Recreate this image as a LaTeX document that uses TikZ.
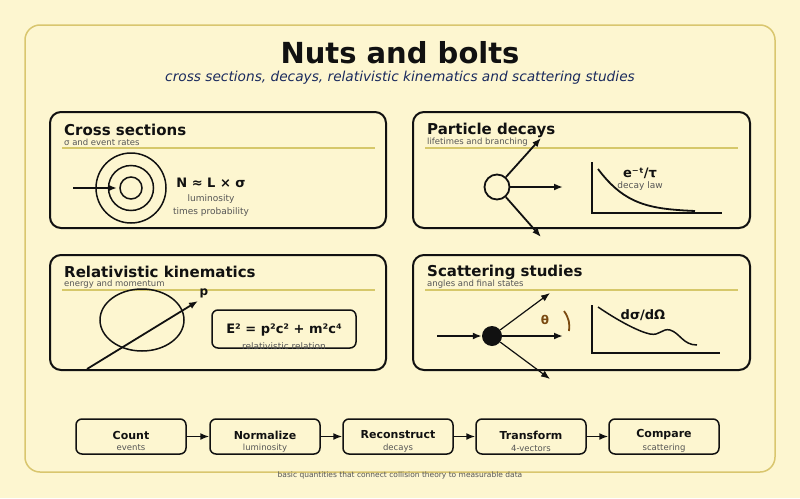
\documentclass[tikz,border=0pt]{standalone}
\usepackage{fontspec}
\setmainfont{DejaVu Sans}
\usetikzlibrary{arrows.meta}
\definecolor{bg}{HTML}{FDF6D0}
\definecolor{frame}{HTML}{D9C66E}
\definecolor{rule}{HTML}{D6C86A}
\definecolor{navy}{HTML}{1A2A5E}
\definecolor{sub}{HTML}{555555}
\definecolor{brn}{HTML}{7A4A10}
\definecolor{ink}{HTML}{111111}
\begin{document}
\begin{tikzpicture}[x=1pt,y=-1pt,
 panel/.style={draw=ink,line width=2pt,rounded corners=11pt},
 ptitle/.style={anchor=west,font=\fontsize{15}{15}\selectfont\bfseries,text=ink,inner sep=0},
 psub/.style={anchor=west,font=\fontsize{8.5}{9}\selectfont,text=sub,inner sep=0},
 prule/.style={draw=rule,line width=1.5pt},
 arr/.style={draw=ink,line width=1.8pt,-{Latex[length=9pt,width=7pt]}},
 tarr/.style={draw=ink,line width=1.2pt,-{Latex[length=9pt,width=7pt]}},
 eq/.style={font=\fontsize{13}{13}\selectfont\bfseries,text=ink,inner sep=0},
 note/.style={font=\fontsize{9}{9}\selectfont,text=sub,inner sep=0},
 stepbox/.style={draw=ink,line width=1.5pt,rounded corners=6pt,minimum width=110pt,minimum height=35pt,inner sep=0},
 stt/.style={font=\fontsize{11}{11}\selectfont\bfseries,text=ink,inner sep=0},
 sts/.style={font=\fontsize{8.5}{9}\selectfont,text=sub,inner sep=0}]
\fill[bg] (0,0) rectangle (800,498);
\useasboundingbox (0,0) rectangle (800,498);
\draw[frame,line width=1.5pt,rounded corners=15pt] (25,25) rectangle (775,472);
\node[font=\fontsize{29}{29}\selectfont\bfseries,text=ink] (title) at (400,53) {Nuts and bolts};
\node[font=\fontsize{13.7}{14}\selectfont\itshape,text=navy] (subtitle) at (400,78) {cross sections, decays, relativistic kinematics and scattering studies};
% panels
\draw[panel] (50,112) rectangle (386,228);
\draw[panel] (413,112) rectangle (750,228);
\draw[panel] (50,255) rectangle (386,370);
\draw[panel] (413,255) rectangle (750,370);
\node[ptitle] (t1) at (64,130) {Cross sections};
\node[psub] (s1) at (64,142) {σ and event rates};
\draw[prule] (62,148) -- (375,148);
\node[ptitle] (t2) at (427,130) {Particle decays};
\node[psub] (s2) at (427,142) {lifetimes and branching};
\draw[prule] (425,148) -- (738,148);
\node[ptitle] (t3) at (64,272) {Relativistic kinematics};
\node[psub] (s3) at (64,284) {energy and momentum};
\draw[prule] (62,290) -- (375,290);
\node[ptitle] (t4) at (427,272) {Scattering studies};
\node[psub] (s4) at (427,284) {angles and final states};
\draw[prule] (425,290) -- (738,290);
% cross sections
\draw[ink,line width=1.5pt] (131,188) circle (35) (131,188) circle (22.5) (131,188) circle (11);
\coordinate (cin) at (73,188);
\coordinate (ctg) at (117,188);
\draw[arr] (cin) -- (ctg);
\node[eq] (neq) at (211,183) {N ≈ L × σ};
\node[note] (n1) at (211,199) {luminosity};
\node[note] (n2) at (211,212) {times probability};
% decays
\node[draw=ink,line width=1.8pt,circle,minimum size=25pt,inner sep=0,fill=bg] (par) at (497,187) {};
\coordinate (d1) at (541,138);
\coordinate (d2) at (563,187);
\coordinate (d3) at (541,237);
\draw[arr] (par) -- (d1);
\draw[arr] (par) -- (d2);
\draw[arr] (par) -- (d3);
\draw[ink,line width=1.3pt] (592,162) -- (592,213) -- (722,213);
\draw[ink,line width=1.8pt] (598,169) .. controls (625,205) and (650,209) .. (695,211);
\node[eq] (dl) at (640,173) {e⁻ᵗ/τ};
\node[note] (dn) at (640,186) {decay law};
% relativistic
\draw[ink,line width=1.5pt] (142,320) ellipse (42 and 31);
\coordinate (p0) at (87,369);
\coordinate (p1) at (198,301);
\draw[arr] (p0) -- (p1);
\node[font=\fontsize{12}{12}\selectfont\bfseries,text=ink] (pl) at (204,293) {p};
\draw[ink,line width=1.5pt,rounded corners=6pt] (212,310) rectangle (356,348);
\node[eq] (emc) at (284,330) {E² = p²c² + m²c⁴};
\node[note] (emn) at (284,346) {relativistic relation};
% scattering
\node[circle,fill=ink,minimum size=20pt,inner sep=0] (tg) at (492,336) {};
\coordinate (sin) at (437,336);
\draw[arr] (sin) -- (tg);
\coordinate (o1) at (550,293);
\coordinate (o2) at (563,336);
\coordinate (o3) at (550,379);
\draw[tarr] (tg) -- (o1);
\draw[arr] (tg) -- (o2);
\draw[tarr] (tg) -- (o3);
\node[font=\fontsize{12}{12}\selectfont\bfseries,text=brn] (th) at (545,320) {θ};
\draw[brn,line width=1.8pt] (564,311) .. controls (569,318) and (570,324) .. (569,331);
\draw[ink,line width=1.3pt] (592,305) -- (592,353) -- (720,353);
\draw[ink,line width=1.5pt] (598,307) .. controls (620,322) and (640,332) .. (650,334) .. controls (660,336) and (662,328) .. (670,330) .. controls (680,333) and (683,345) .. (697,345);
\node[eq] (ds) at (643,315) {dσ/dΩ};
% steps
\node[stepbox] (a) at (131,436.5) {};
\node[stepbox] (b) at (265,436.5) {};
\node[stepbox] (c) at (398,436.5) {};
\node[stepbox] (d) at (531,436.5) {};
\node[stepbox] (e) at (664,436.5) {};
\foreach \n/\t/\s in {a/Count/events,b/Normalize/luminosity,c/Reconstruct/decays,d/Transform/4-vectors,e/Compare/scattering}{
 \node[stt] at ([yshift=1.5pt]\n.center) {\t};
 \node[sts] at ([yshift=-11.5pt]\n.center) {\s};
}
\draw[tarr,line width=1.5pt] (a) -- (b);
\draw[tarr,line width=1.5pt] (b) -- (c);
\draw[tarr,line width=1.5pt] (c) -- (d);
\draw[tarr,line width=1.5pt] (d) -- (e);
\node[font=\fontsize{7.5}{8}\selectfont,text=sub] (foot) at (400,475) {basic quantities that connect collision theory to measurable data};
\end{tikzpicture}
\end{document}
